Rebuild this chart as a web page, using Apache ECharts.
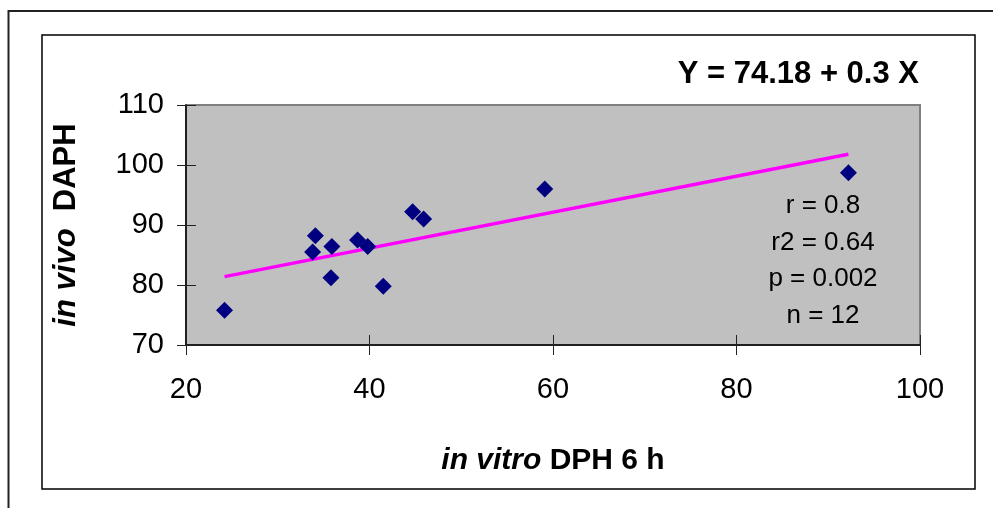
<!DOCTYPE html>
<html>
<head>
<meta charset="utf-8">
<script src="https://cdn.jsdelivr.net/npm/echarts@6/dist/echarts.min.js"></script>
<style>
html,body{margin:0;padding:0;background:#fff;}
#chart{width:993px;height:508px;}
</style>
</head>
<body>
<div id="chart"></div>
<script>
// ---- data ----
var xVitro = [24.2, 34.1, 33.8, 35.9, 35.8, 38.7, 39.8, 41.5, 44.7, 45.9, 59.1, 92.2];
var yVivo  = [75.8, 88.2, 85.5, 86.4, 81.2, 87.5, 86.4, 79.8, 92.2, 91.0, 96.0, 98.7];
var trendX = [24.2, 92.2];
var trendY = [81.4, 101.8];
var xTicks = [20, 40, 60, 80, 100];
var yTicks = [70, 80, 90, 100, 110];
var equationText = 'Y = 74.18 + 0.3 X';
var statsLines = ['r = 0.8', 'r2 = 0.64', 'p = 0.002', 'n = 12'];

var pts = xVitro.map(function (x, i) { return [x, yVivo[i]]; });
var trend = trendX.map(function (x, i) { return [x, trendY[i]]; });

var FONT = '"Liberation Sans", Arial, sans-serif';
var xMin = xTicks[0], xMax = xTicks[xTicks.length - 1], xInt = xTicks[1] - xTicks[0];
var yMin = yTicks[0], yMax = yTicks[yTicks.length - 1], yInt = yTicks[1] - yTicks[0];

var chart = echarts.init(document.getElementById('chart'), null, {renderer: 'canvas'});
var tickStyle = {color: '#222', width: 1};
chart.setOption({
  animation: false,
  backgroundColor: '#fff',
  grid: {
    left: 186, top: 105, right: 73, bottom: 163,
    show: true, backgroundColor: '#c0c0c0', borderColor: '#808080', borderWidth: 2
  },
  xAxis: [{
    type: 'value', min: xMin, max: xMax, interval: xInt,
    splitLine: {show: false},
    axisLine: {show: true, onZero: false, lineStyle: {color: '#000', width: 1.5}},
    axisTick: {show: true, inside: false, length: 10, lineStyle: tickStyle},
    axisLabel: {margin: 30, fontSize: 29, color: '#000', fontFamily: FONT},
    name: '{i|in vitro} DPH 6 h',
    nameLocation: 'middle', nameGap: 101,
    nameTextStyle: {
      fontSize: 30, fontWeight: 'bold', color: '#000', fontFamily: FONT,
      rich: {i: {fontSize: 30, fontWeight: 'bold', fontStyle: 'italic', color: '#000', fontFamily: FONT}}
    }
  }, {
    type: 'value', min: xMin, max: xMax, interval: xInt, position: 'bottom',
    splitLine: {show: false},
    axisLine: {show: false},
    axisTick: {show: true, inside: true, length: 10, lineStyle: tickStyle},
    axisLabel: {show: false}
  }],
  yAxis: [{
    type: 'value', min: yMin, max: yMax, interval: yInt,
    splitLine: {show: false},
    axisLine: {show: true, onZero: false, lineStyle: {color: '#000', width: 1.5}},
    axisTick: {show: true, inside: false, length: 9, lineStyle: tickStyle},
    axisLabel: {margin: 22, fontSize: 29, color: '#000', fontFamily: FONT},
    name: '{i|in vivo}  DAPH',
    nameLocation: 'middle', nameGap: 104, nameRotate: 90,
    nameTextStyle: {
      fontSize: 31, fontWeight: 'bold', color: '#000', fontFamily: FONT,
      rich: {i: {fontSize: 31, fontWeight: 'bold', fontStyle: 'italic', color: '#000', fontFamily: FONT}}
    }
  }, {
    type: 'value', min: yMin, max: yMax, interval: yInt, position: 'left',
    splitLine: {show: false},
    axisLine: {show: false},
    axisTick: {show: true, inside: true, length: 10, lineStyle: tickStyle},
    axisLabel: {show: false}
  }],
  series: [{
    type: 'line',
    data: trend,
    symbol: 'none',
    lineStyle: {color: '#ff00ff', width: 3.5},
    z: 2
  }, {
    type: 'scatter',
    data: pts,
    symbol: 'diamond',
    symbolSize: 17,
    itemStyle: {color: '#000080', opacity: 1},
    z: 3
  }],
  graphic: [{
    type: 'rect', silent: true,
    shape: {x: 8.5, y: 11, width: 1100, height: 600},
    style: {fill: 'none', stroke: '#222', lineWidth: 2}
  }, {
    type: 'rect', silent: true,
    shape: {x: 42, y: 35, width: 933, height: 454},
    style: {fill: 'none', stroke: '#000', lineWidth: 1.5}
  }, {
    type: 'text', silent: true,
    x: 919, y: 74,
    style: {
      text: equationText, textAlign: 'right', textVerticalAlign: 'middle',
      font: 'bold 31px ' + FONT, fill: '#000'
    }
  }, {
    type: 'text', silent: true,
    x: 823, y: 188, z: 10,
    style: {
      text: statsLines.join('\n'), textAlign: 'center', textVerticalAlign: 'top',
      font: '26px ' + FONT, lineHeight: 36.5, fill: '#000'
    }
  }]
});
</script>
</body>
</html>
